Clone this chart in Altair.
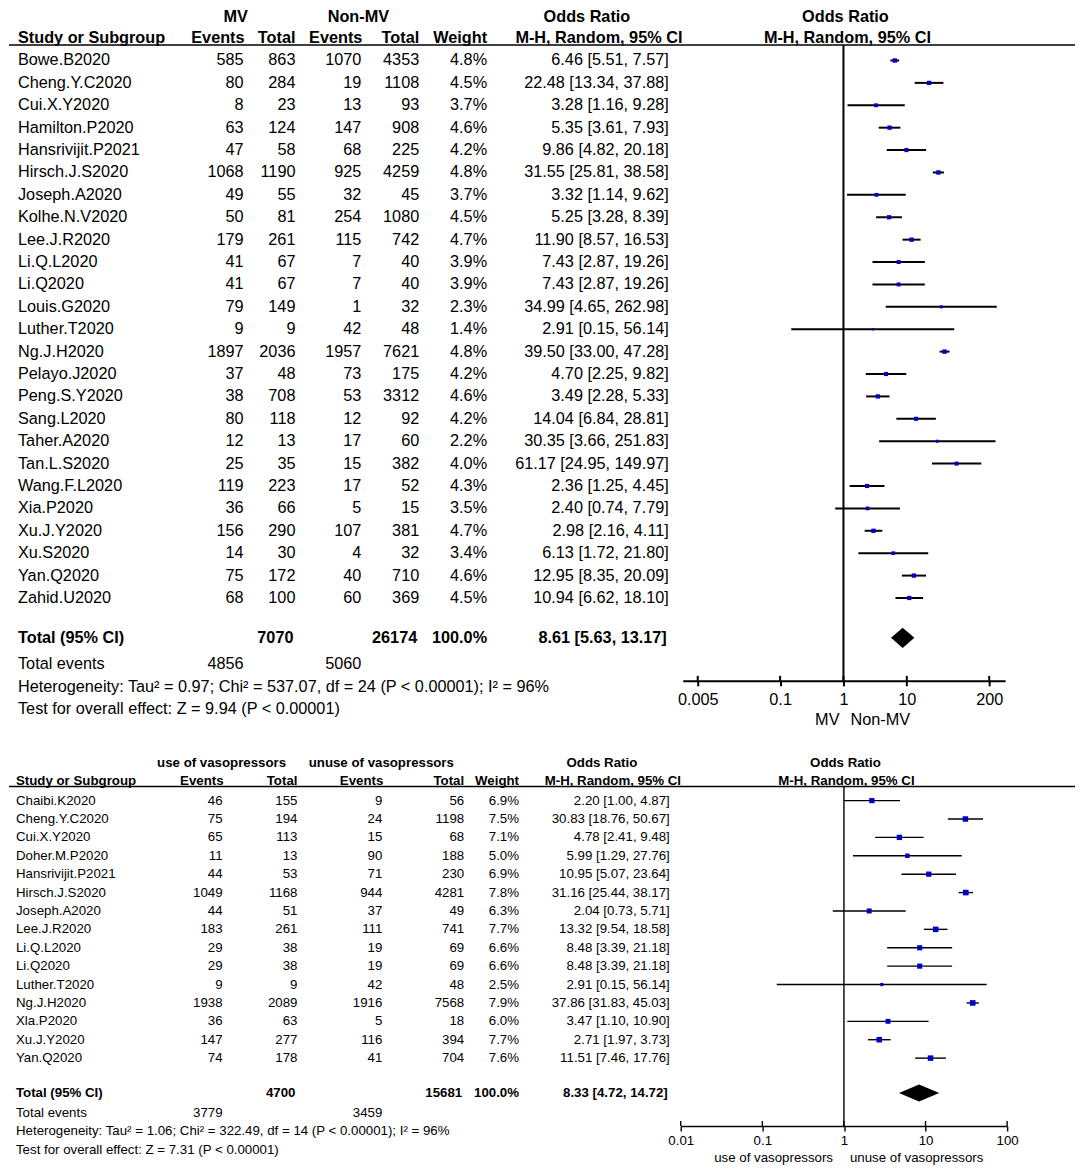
import altair as alt
import pandas as pd

# ---------------- Panel A: MV vs Non-MV ----------------
names_a = ["Bowe.B2020", "Cheng.Y.C2020", "Cui.X.Y2020", "Hamilton.P2020", "Hansrivijit.P2021",
           "Hirsch.J.S2020", "Joseph.A2020", "Kolhe.N.V2020", "Lee.J.R2020", "Li.Q.L2020",
           "Li.Q2020", "Louis.G2020", "Luther.T2020", "Ng.J.H2020", "Pelayo.J2020",
           "Peng.S.Y2020", "Sang.L2020", "Taher.A2020", "Tan.L.S2020", "Wang.F.L2020",
           "Xia.P2020", "Xu.J.Y2020", "Xu.S2020", "Yan.Q2020", "Zahid.U2020"]
mv_events = [585, 80, 8, 63, 47, 1068, 49, 50, 179, 41, 41, 79, 9, 1897, 37, 38, 80, 12, 25, 119, 36, 156, 14, 75, 68]
mv_total = [863, 284, 23, 124, 58, 1190, 55, 81, 261, 67, 67, 149, 9, 2036, 48, 708, 118, 13, 35, 223, 66, 290, 30, 172, 100]
nmv_events = [1070, 19, 13, 147, 68, 925, 32, 254, 115, 7, 7, 1, 42, 1957, 73, 53, 12, 17, 15, 17, 5, 107, 4, 40, 60]
nmv_total = [4353, 1108, 93, 908, 225, 4259, 45, 1080, 742, 40, 40, 32, 48, 7621, 175, 3312, 92, 60, 382, 52, 15, 381, 32, 710, 369]
weight_a = [4.8, 4.5, 3.7, 4.6, 4.2, 4.8, 3.7, 4.5, 4.7, 3.9, 3.9, 2.3, 1.4, 4.8, 4.2, 4.6, 4.2, 2.2, 4.0, 4.3, 3.5, 4.7, 3.4, 4.6, 4.5]
or_a = [6.46, 22.48, 3.28, 5.35, 9.86, 31.55, 3.32, 5.25, 11.90, 7.43, 7.43, 34.99, 2.91, 39.50, 4.70,
        3.49, 14.04, 30.35, 61.17, 2.36, 2.40, 2.98, 6.13, 12.95, 10.94]
lo_a = [5.51, 13.34, 1.16, 3.61, 4.82, 25.81, 1.14, 3.28, 8.57, 2.87, 2.87, 4.65, 0.15, 33.00, 2.25,
        2.28, 6.84, 3.66, 24.95, 1.25, 0.74, 2.16, 1.72, 8.35, 6.62]
hi_a = [7.57, 37.88, 9.28, 7.93, 20.18, 38.58, 9.62, 8.39, 16.53, 19.26, 19.26, 262.98, 56.14, 47.28, 9.82,
        5.33, 28.81, 251.83, 149.97, 4.45, 7.79, 4.11, 21.80, 20.09, 18.10]
totals_a = [7070, 26174]
total_events_a = [4856, 5060]
pooled_a = [8.61, 5.63, 13.17]
ticks_a = [0.005, 0.1, 1, 10, 200]
het_a = "Heterogeneity: Tau\u00b2 = 0.97; Chi\u00b2 = 537.07, df = 24 (P < 0.00001); I\u00b2 = 96%"
test_a = "Test for overall effect: Z = 9.94 (P < 0.00001)"

# ---------------- Panel B: vasopressors ----------------
names_b = ["Chaibi.K2020", "Cheng.Y.C2020", "Cui.X.Y2020", "Doher.M.P2020", "Hansrivijit.P2021",
           "Hirsch.J.S2020", "Joseph.A2020", "Lee.J.R2020", "Li.Q.L2020", "Li.Q2020",
           "Luther.T2020", "Ng.J.H2020", "Xla.P2020", "Xu.J.Y2020", "Yan.Q2020"]
vp_events = [46, 75, 65, 11, 44, 1049, 44, 183, 29, 29, 9, 1938, 36, 147, 74]
vp_total = [155, 194, 113, 13, 53, 1168, 51, 261, 38, 38, 9, 2089, 63, 277, 178]
nvp_events = [9, 24, 15, 90, 71, 944, 37, 111, 19, 19, 42, 1916, 5, 116, 41]
nvp_total = [56, 1198, 68, 188, 230, 4281, 49, 741, 69, 69, 48, 7568, 18, 394, 704]
weight_b = [6.9, 7.5, 7.1, 5.0, 6.9, 7.8, 6.3, 7.7, 6.6, 6.6, 2.5, 7.9, 6.0, 7.7, 7.6]
or_b = [2.20, 30.83, 4.78, 5.99, 10.95, 31.16, 2.04, 13.32, 8.48, 8.48, 2.91, 37.86, 3.47, 2.71, 11.51]
lo_b = [1.00, 18.76, 2.41, 1.29, 5.07, 25.44, 0.73, 9.54, 3.39, 3.39, 0.15, 31.83, 1.10, 1.97, 7.46]
hi_b = [4.87, 50.67, 9.48, 27.76, 23.64, 38.17, 5.71, 18.58, 21.18, 21.18, 56.14, 45.03, 10.90, 3.73, 17.76]
totals_b = [4700, 15681]
total_events_b = [3779, 3459]
pooled_b = [8.33, 4.72, 14.72]
ticks_b = [0.01, 0.1, 1, 10, 100]
het_b = "Heterogeneity: Tau\u00b2 = 1.06; Chi\u00b2 = 322.49, df = 14 (P < 0.00001); I\u00b2 = 96%"
test_b = "Test for overall effect: Z = 7.31 (P < 0.00001)"

FONT = "Liberation Sans"
BLUE = "#0000cc"


def one():
    return pd.DataFrame({"k": [0]})


def build_panel(c):
    n = len(c["names"])
    df = pd.DataFrame({
        "row": list(range(n)), "name": c["names"], "e1": c["e1"], "t1": c["t1"],
        "e2": c["e2"], "t2": c["t2"], "w": c["w"], "est": c["est"], "lo": c["lo"], "hi": c["hi"],
    })
    fs = c["fs"]
    W, H = c["W"], c["H"]
    lw = c["lw"]
    ys = alt.Scale(domain=[0, n - 1], range=c["yrange"], nice=False, zero=False)
    xs = alt.Scale(type="log", domain=c["xdomain"], range=c["xrange"], nice=False)
    xaxis = alt.Axis(
        values=c["ticks"], labelExpr="'' + datum.value", title=None, grid=False,
        domainColor="black", domainWidth=lw, tickColor="black", tickWidth=lw, tickSize=5,
        labelFont=FONT, labelFontSize=fs, labelColor="black", labelPadding=c["lpad"],
        labelFlush=False, labelOverlap=False)
    Yrow = alt.Y("row:Q", scale=ys, axis=None)

    def X(field):
        return alt.X(field, scale=xs, axis=xaxis)

    def Xone():
        return alt.XDatum(1, type="quantitative", scale=xs, axis=xaxis)

    def ydat(r):
        return alt.YDatum(r, type="quantitative", scale=ys, axis=None)

    def stat(text, x, r, align, bold=False):
        return alt.Chart(one()).mark_text(
            text=text, align=align, baseline="middle", font=FONT, fontSize=fs,
            fontWeight="bold" if bold else "normal", color="black"
        ).encode(x=alt.value(x), y=ydat(r))

    def col(field, x, align="right"):
        return alt.Chart(df).transform_calculate(
            wlab="format(datum.w, '.1f') + '%'",
            orlab="format(datum.est, '.2f') + ' [' + format(datum.lo, '.2f') + ', ' + format(datum.hi, '.2f') + ']'",
        ).mark_text(align=align, baseline="middle", font=FONT, fontSize=fs, color="black").encode(
            x=alt.value(x), y=Yrow, text=alt.Text(field)
        )

    cx = c["cols"]
    layers = []
    # header
    h1, h2, ul = c["hrows"]
    for text, x in c["head1"]:
        layers.append(stat(text, x, h1, "center", True))
    layers.append(stat("Study or Subgroup", cx["name"], h2, "left", True))
    layers.append(stat("Events", cx["e1"] + 1, h2, "right", True))
    layers.append(stat("Total", cx["t1"], h2, "right", True))
    layers.append(stat("Events", cx["e2"] + 1, h2, "right", True))
    layers.append(stat("Total", cx["t2"], h2, "right", True))
    layers.append(stat("Weight", cx["w"], h2, "right", True))
    for x in c["mh_x"]:
        layers.append(stat("M-H, Random, 95% CI", x, h2, "center", True))
    layers.append(alt.Chart(one()).mark_rule(color="black", strokeWidth=1.5).encode(
        x=alt.value(0), x2=alt.value(W), y=ydat(ul)))

    # study rows
    layers.append(col("name:N", cx["name"], "left"))
    layers.append(col("e1:N", cx["e1"]))
    layers.append(col("t1:N", cx["t1"]))
    layers.append(col("e2:N", cx["e2"]))
    layers.append(col("t2:N", cx["t2"]))
    layers.append(col("wlab:N", cx["w"]))
    layers.append(col("orlab:N", cx["or"]))

    # totals and footers
    tr, er, hr, sr = c["frows"]
    pe, pl, ph = c["pooled"]
    layers.append(stat("Total (95% CI)", cx["name"], tr, "left", True))
    layers.append(stat(str(c["totals"][0]), cx["t1"] - 2, tr, "right", True))
    layers.append(stat(str(c["totals"][1]), cx["t2"] - 2, tr, "right", True))
    layers.append(stat("100.0%", cx["w"], tr, "right", True))
    layers.append(stat(f"{pe:.2f} [{pl:.2f}, {ph:.2f}]", cx["or"] - 2, tr, "right", True))
    layers.append(stat("Total events", cx["name"], er, "left"))
    layers.append(stat(str(c["tevents"][0]), cx["e1"], er, "right"))
    layers.append(stat(str(c["tevents"][1]), cx["e2"], er, "right"))
    layers.append(stat(c["het"], cx["name"], hr, "left"))
    layers.append(stat(c["test"], cx["name"], sr, "left"))

    # forest plot
    layers.append(alt.Chart(one()).mark_rule(color="black", strokeWidth=lw).encode(
        x=Xone(), y=ydat(ul), y2=alt.value(H)))
    layers.append(alt.Chart(df).mark_rule(color="black", strokeWidth=lw).encode(
        x=X("lo:Q"), x2="hi:Q", y=Yrow))
    layers.append(alt.Chart(df).mark_square(color=BLUE, opacity=1).encode(
        x=X("est:Q"), y=Yrow,
        size=alt.Size("w:Q", scale=alt.Scale(domain=[0, c["wmax"]], range=[0, c["smax"]]), legend=None)))
    dia = pd.DataFrame({"x": [pl, pe, ph], "k": [0, 1, 0]})
    hh = c["dh"]
    layers.append(alt.Chart(dia).transform_calculate(
        ya=f"{tr} - {hh} * datum.k", yb=f"{tr} + {hh} * datum.k"
    ).mark_area(color="black", orient="vertical", opacity=1).encode(
        x=X("x:Q"), y=alt.Y("ya:Q", scale=ys, axis=None), y2="yb:Q"))

    # upper half of the tick marks
    tdf = pd.DataFrame({"t": c["ticks"]})
    layers.append(alt.Chart(tdf).mark_rule(color="black", strokeWidth=lw).encode(
        x=X("t:Q"), y=alt.value(H - 5), y2=alt.value(H)))

    # favours labels
    sl, sr_lab = c["sub"]
    layers.append(alt.Chart(one()).mark_text(
        text=sl, align="right", baseline="middle", font=FONT, fontSize=fs, color="black", dx=c["sdx"][0]
    ).encode(x=Xone(), y=alt.value(H + c["sy"])))
    layers.append(alt.Chart(one()).mark_text(
        text=sr_lab, align="left", baseline="middle", font=FONT, fontSize=fs, color="black", dx=c["sdx"][1]
    ).encode(x=Xone(), y=alt.value(H + c["sy"])))

    return alt.layer(*layers).properties(width=W, height=H)


panel_a = build_panel(dict(
    names=names_a, e1=mv_events, t1=mv_total, e2=nmv_events, t2=nmv_total, w=weight_a,
    est=or_a, lo=lo_a, hi=hi_a, totals=totals_a, tevents=total_events_a, pooled=pooled_a,
    ticks=ticks_a, het=het_a, test=test_a, fs=16.3, W=1068, H=671,
    yrange=[49.5, 588], xdomain=[0.0029, 357], xrange=[675, 998],
    cols=dict(name=9, e1=235, t1=287, e2=353, t2=411, w=479, **{"or": 661}),
    hrows=(-1.92, -0.99, -0.691), frows=(25.78, 26.94, 27.96, 28.94),
    head1=[("MV", 227), ("Non-MV", 350), ("Odds Ratio", 579), ("Odds Ratio", 838)],
    mh_x=[591, 840], lw=2, wmax=5, smax=32, dh=0.45, lpad=5.5,
    sub=("MV", "Non-MV"), sdx=(-4, 7), sy=39,
))

panel_b = build_panel(dict(
    names=names_b, e1=vp_events, t1=vp_total, e2=nvp_events, t2=nvp_total, w=weight_b,
    est=or_b, lo=lo_b, hi=hi_b, totals=totals_b, tevents=total_events_b, pooled=pooled_b,
    ticks=ticks_b, het=het_b, test=test_b, fs=13.3, W=1068, H=373,
    yrange=[47, 305], xdomain=[0.01, 100], xrange=[673, 1000],
    cols=dict(name=7, e1=214, t1=289, e2=374, t2=456, w=511, **{"or": 662}),
    hrows=(-2.06, -1.085, -0.76), frows=(15.9, 16.98, 17.96, 18.99),
    head1=[("use of vasopressors", 213), ("unuse of vasopressors", 373), ("Odds Ratio", 594), ("Odds Ratio", 838)],
    mh_x=[605, 839], lw=1.4, wmax=8, smax=30, dh=0.46, lpad=2.5,
    sub=("use of vasopressors", "unuse of vasopressors"), sdx=(-11, 6), sy=32,
))

chart = alt.vconcat(panel_a, panel_b, spacing=73, bounds="flush").properties(
    padding=0
).configure_view(strokeWidth=0)

chart.save("out.html", embed_options={"renderer": "svg", "actions": False})
